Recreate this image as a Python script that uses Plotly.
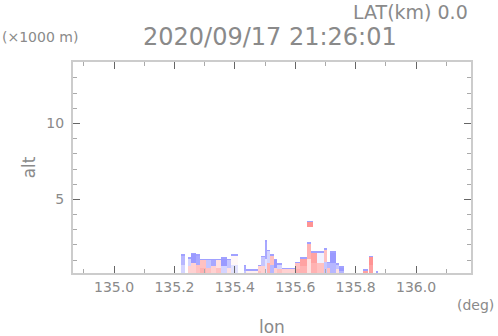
import numpy as np
import plotly.graph_objects as go

# ---- data ----
# echo segments along longitude: start lon, end lon, echo top (km),
# value in upper part and value in lower part (-1 blue .. +1 red)
seg_lon0 = [135.221, 135.245, 135.255, 135.270, 135.285, 135.303, 135.321, 135.338, 135.354, 135.372,
            135.387, 135.430, 135.437, 135.477, 135.487, 135.500, 135.506, 135.516, 135.533, 135.543,
            135.559, 135.602, 135.619, 135.639, 135.655, 135.675, 135.695, 135.705, 135.718, 135.735,
            135.745, 135.824, 135.844, 135.867]
seg_lon1 = [135.236, 135.255, 135.270, 135.285, 135.303, 135.321, 135.338, 135.354, 135.372, 135.387,
            135.410, 135.437, 135.477, 135.487, 135.500, 135.506, 135.516, 135.533, 135.543, 135.559,
            135.602, 135.619, 135.639, 135.655, 135.675, 135.695, 135.705, 135.718, 135.735, 135.745,
            135.761, 135.841, 135.857, 135.874]
seg_top = [1.45, 1.20, 1.55, 1.45, 1.10, 1.10, 1.15, 1.10, 1.20, 1.10,
           1.40, 0.68, 0.45, 0.70, 1.30, 2.30, 1.70, 1.45, 1.10, 0.85,
           0.50, 0.90, 1.20, 2.20, 1.65, 1.65, 1.85, 0.95, 1.60, 0.80,
           0.65, 0.40, 1.35, 0.35]
seg_hi = [-0.5, -0.3, -0.7, -0.6, 0.4, -0.4, -0.6, 0.2, -0.7, -0.4,
          0.05, -0.6, 0.1, 0.3, -0.4, -0.6, -0.3, 0.4, -0.7, -0.3,
          0.3, 0.4, 0.6, 0.5, 0.6, -0.1, 0.4, -0.5, -0.7, -0.4,
          -0.7, 0.6, 0.7, -0.6]
seg_lo = [-0.3, 0.3, 0.3, 0.4, 0.5, 0.4, 0.3, 0.4, -0.3, 0.2,
          -0.2, -0.4, 0.3, 0.4, 0.3, -0.2, 0.5, -0.5, 0.3, 0.4,
          0.5, 0.5, 0.5, 0.2, 0.5, 0.4, -0.4, 0.4, -0.5, 0.2,
          -0.5, 0.5, 0.6, -0.6]
# isolated echo aloft
blob_lon = [135.639, 135.659]
blob_alt = [3.20, 3.65]
blob_val = 0.7
edge_val = -0.65  # bluish echo-top outline

x_ticks = [135.0, 135.2, 135.4, 135.6, 135.8, 136.0]
x_ticktext = ["135.0", "135.2", "135.4", "135.6", "135.8", "136.0"]
y_ticks = [5, 10]
y_ticktext = ["5", "10"]

# ---- grid ----
lon_grid = np.arange(135.200, 135.900, 0.0033)
alt_grid = np.arange(0.05, 4.0, 0.1)
z = np.full((len(alt_grid), len(lon_grid)), np.nan)
for l0, l1, top, vh, vl in zip(seg_lon0, seg_lon1, seg_top, seg_hi, seg_lo):
    cols = (lon_grid >= l0) & (lon_grid < l1)
    for r, a in enumerate(alt_grid):
        if a <= top:
            if a > top - 0.12:
                z[r, cols] = edge_val
            elif a > top * 0.5:
                z[r, cols] = vh
            else:
                z[r, cols] = vl
cols = (lon_grid >= blob_lon[0]) & (lon_grid < blob_lon[1])
for r, a in enumerate(alt_grid):
    if blob_alt[0] <= a <= blob_alt[1]:
        z[r, cols] = edge_val if a > blob_alt[1] - 0.12 else blob_val

cs = [[0, "rgb(110,110,255)"], [0.5, "rgb(255,255,255)"], [1, "rgb(255,100,100)"]]
fig = go.Figure(go.Heatmap(x=lon_grid, y=alt_grid, z=z, zmin=-1, zmax=1,
                           colorscale=cs, showscale=False, zsmooth=False,
                           hoverongaps=False))

TXT = "#8a8a8a"
FONT = "DejaVu Sans"
axis_common = dict(showline=True, mirror="ticks", linecolor="#cccccc", linewidth=2,
                   ticks="inside", ticklen=7, tickcolor="#666666", tickwidth=1,
                   showgrid=False, zeroline=False,
                   tickfont=dict(family=FONT, size=14, color=TXT))
fig.update_xaxes(range=[134.864, 136.182], tickvals=x_ticks, ticktext=x_ticktext,
                 minor=dict(dtick=0.1, tick0=135.0, ticks="inside", ticklen=4,
                            tickcolor="#aaaaaa", showgrid=False),
                 **axis_common)
fig.update_yaxes(range=[0.15, 14.05], tickvals=y_ticks, ticktext=y_ticktext,
                 minor=dict(dtick=1, tick0=0, ticks="inside", ticklen=4,
                            tickcolor="#aaaaaa", showgrid=False),
                 ticklabelstandoff=4, **axis_common)

def ann(text, x, y, size, xanchor="center", angle=0):
    return dict(text=text, x=x, y=y, xref="paper", yref="paper", showarrow=False,
                xanchor=xanchor, yanchor="middle", textangle=angle,
                font=dict(family=FONT, size=size, color=TXT))

fig.update_layout(
    width=498, height=336,
    margin=dict(l=73, r=27, t=62, b=63),
    paper_bgcolor="white", plot_bgcolor="white",
    annotations=[
        ann("2020/09/17 21:26:01", 0.495, 1.118, 24),
        ann("LAT(km) 0.0", 0.9975, 1.237, 19, xanchor="right"),
        ann("(×1000 m)", -0.1834, 1.118, 14, xanchor="left"),
        ann("(deg)", 1.063, -0.152, 14, xanchor="right"),
        ann("lon", 0.5, -0.255, 17),
        ann("alt", -0.11, 0.502, 17, angle=-90),
    ],
)
fig.write_html("out.html", config={"displayModeBar": False},
               post_script="document.body.style.margin='0';")
